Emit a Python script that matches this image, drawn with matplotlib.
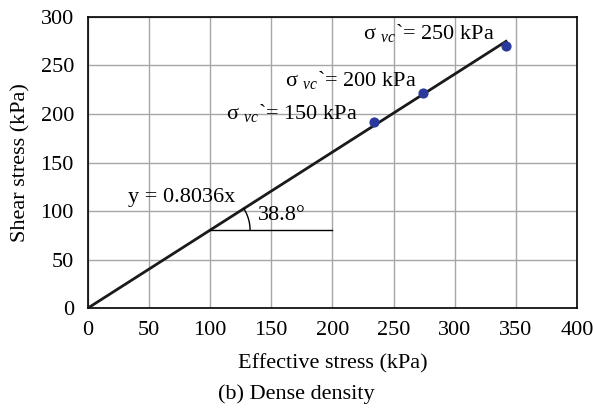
import numpy as np
import matplotlib
matplotlib.use("Agg")
from matplotlib import pyplot as plt

plt.rcParams["font.family"] = ["Liberation Serif", "DejaVu Serif"]
plt.rcParams["mathtext.fontset"] = "custom"
plt.rcParams["mathtext.rm"] = "Liberation Serif"
plt.rcParams["mathtext.it"] = "Liberation Serif:italic"

# data
eff_stress = [234, 274, 342]      # kPa
shear_stress = [192, 222, 270]    # kPa
slope = 0.8036
labels = ["150", "200", "250"]
x_ticks = [0, 50, 100, 150, 200, 250, 300, 350, 400]
y_ticks = [0, 50, 100, 150, 200, 250, 300]

fs = 16
fig = plt.figure(figsize=(5.93, 4.12), dpi=100)
ax = fig.add_axes([0.148, 0.252, 0.825, 0.707])

ax.grid(True, color="#a6a6a6", linewidth=1.0)
ax.set_axisbelow(True)

# fitted line through the origin
xl = np.array([0, 342])
ax.plot(xl, slope * xl, color="#1a1a1a", linewidth=2.0, zorder=3)
ax.scatter(eff_stress, shear_stress, s=40, color="#2a3a9c", zorder=4)

# horizontal reference line and angle arc
ax.plot([100, 200], [slope * 100, slope * 100], color="black", linewidth=1.0, zorder=3)
ax.set_xlim(0, 400)
ax.set_ylim(0, 300)
fig.canvas.draw()
cx, cy = ax.transData.transform((100, slope * 100))
ex, ey = ax.transData.transform((200, slope * 200))
ang = np.arctan2(ey - cy, ex - cx)
th = np.linspace(0, ang, 50)
r = 40
pts = np.column_stack([cx + r * np.cos(th), cy + r * np.sin(th)])
arc = ax.transData.inverted().transform(pts)
ax.plot(arc[:, 0], arc[:, 1], color="black", linewidth=1.0, zorder=3)

ax.text(33, 114, "y = 0.8036x", fontsize=fs, va="center")
ax.text(139, 95, "38.8°", fontsize=fs, va="center")

pos = [(113, 201), (161, 235), (225, 283)]
for (tx, ty), lab in zip(pos, labels):
    ax.text(tx, ty, "σ " + r"$\mathit{_{vc}}$" + "`= " + lab + " kPa", fontsize=fs, va="center")

ax.set_xticks(x_ticks)
ax.set_yticks(y_ticks)
ax.tick_params(axis="x", length=0, labelsize=fs, pad=9)
ax.tick_params(axis="y", length=0, labelsize=fs, pad=10)
for s in ax.spines.values():
    s.set_linewidth(1.2)

ax.set_xlabel("Effective stress (kPa)", fontsize=fs, labelpad=10)
ax.set_ylabel("Shear stress (kPa)", fontsize=fs, labelpad=7)
fig.text(0.5, 0.043, "(b) Dense density", fontsize=fs, ha="center", va="center")

fig.savefig("out.png", dpi=100)
